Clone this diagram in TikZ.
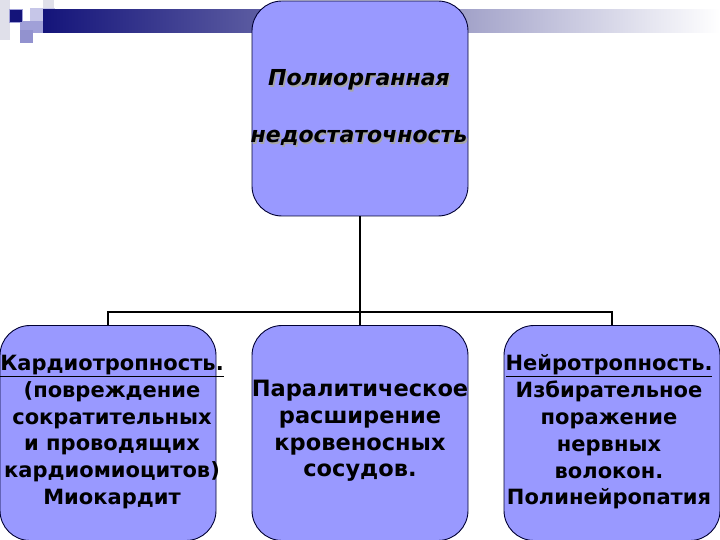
\documentclass[tikz,border=0pt]{standalone}
\usepackage{fontspec}
\setmainfont{DejaVu Sans}
\usetikzlibrary{shadings}
\definecolor{boxfill}{HTML}{9999FF}
\definecolor{boxline}{HTML}{000033}
\definecolor{navy}{HTML}{14147A}
\definecolor{lav}{HTML}{A0A0D8}
\definecolor{lgray}{HTML}{E0E0EA}
\tikzset{
  rbox/.style={draw=boxline, line width=0.9pt, fill=boxfill, rounded corners=30pt, minimum width=216pt, minimum height=215pt, inner sep=0pt},
  btext/.style={font=\fontsize{22.5}{26.8}\selectfont\bfseries, align=center, text=black},
  stext/.style={font=\fontsize{21}{26.8}\selectfont\bfseries, align=center, text=black},
  ttext/.style={font=\fontsize{22}{26}\selectfont\bfseries\itshape},
  conn/.style={draw=black, line width=1.6pt},
  conn2/.style={draw=black, line width=1.1pt},
}
\begin{document}
\begin{tikzpicture}[x=1pt,y=-1pt]
\useasboundingbox (0,0) rectangle (720,540);
\fill[white] (0,0) rectangle (720,540);
% decoration
\fill[lgray] (0,0) rectangle (10,40);
\fill[lgray] (43,0) rectangle (54,12);
\fill[lav!60] (30,8) rectangle (55,22);
\shade[left color=navy, right color=white, middle color=navy!45!lgray] (43,10) rectangle (720,33);
\fill[lav] (20,21) rectangle (43,33);
\fill[lav!90!navy] (20,30) rectangle (33,43);
\fill[navy] (9,9) rectangle (22,22);
\draw[lav, line width=0.8pt] (9,9) rectangle (22,22);
% boxes
\node[rbox] (top) at (360,108.5) {};
\node[rbox] (left) at (108,433) {};
\node[rbox] (mid) at (360,433) {};
\node[rbox] (right) at (612,433) {};
% texts
\foreach \dx/\dy/\c in {1.5/1.5/gray!70, 0/0/black}{
  \node[ttext, text=\c] at (359+\dx,80+\dy) {Полиорганная};
  \node[ttext, text=\c] at (359+\dx,138+\dy) {недостаточность};
}
\node[stext] (lt) at (112,432) {\underline{Кардиотропность.}\\(повреждение\\сократительных\\и проводящих\\кардиомиоцитов)\\Миокардит};
\node[btext] (mt) at (360,431) {Паралитическое\\расширение\\кровеносных\\сосудов.};
\node[stext] (rt) at (609,432) {\underline{Нейротропность.}\\Избирательное\\поражение\\нервных\\волокон.\\Полинейропатия};
% connectors
\coordinate (j) at (360,312);
\draw[conn] (top.south) -- (j);
\draw[conn2] (left.north) |- (j) -| (right.north);
\draw[conn2] (j) -- (mid.north);
\end{tikzpicture}
\end{document}
